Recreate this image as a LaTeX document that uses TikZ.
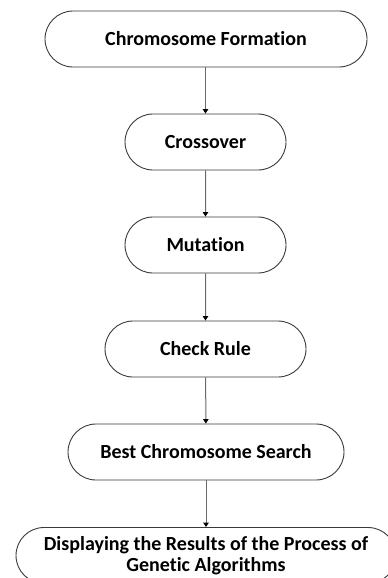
\documentclass[tikz,border=0pt]{standalone}
\usepackage{fontspec}
\setmainfont[RawFeature=-liga]{Carlito}
\usetikzlibrary{shapes.misc,arrows.meta}
\definecolor{edgegray}{HTML}{3A3A3A}
\definecolor{linkgray}{HTML}{6A6A6A}
\tikzset{
  stadium/.style={rounded rectangle, draw=edgegray, line width=0.9pt, fill=white,
    inner sep=0pt, minimum height=56pt, align=center,
    font=\fontsize{20}{20.6}\selectfont\bfseries},
  link/.style={draw=linkgray, line width=1pt,
    -{Triangle[length=4.5pt,width=5.5pt,fill=black,color=black]}}
}
\begin{document}
\begin{tikzpicture}[x=1pt,y=-1pt]
  \useasboundingbox (0,0) rectangle (388,578);
  \clip (0,0) rectangle (388,578);
  \node[stadium, minimum width=322pt] (form) at (206,39) {Chromosome Formation};
  \node[stadium, minimum width=161pt] (cross) at (205.5,142) {Crossover};
  \node[stadium, minimum width=161pt] (mut) at (205.5,245) {Mutation};
  \node[stadium, minimum width=201pt] (check) at (205.5,349) {Check Rule};
  \node[stadium, minimum width=276pt] (best) at (206,452) {Best Chromosome Search};
  \node[stadium, minimum width=380pt] (show) at (206,555.5)
    {Displaying the Results of the Process of\\Genetic Algorithms};
  \draw[link] (form.south -| cross.north) -- (cross.north);
  \draw[link] (cross) -- (mut);
  \draw[link] (mut) -- (check);
  \draw[link] (check) -- (best);
  \draw[link] (best.south -| show.north) -- (show.north);
\end{tikzpicture}
\end{document}
